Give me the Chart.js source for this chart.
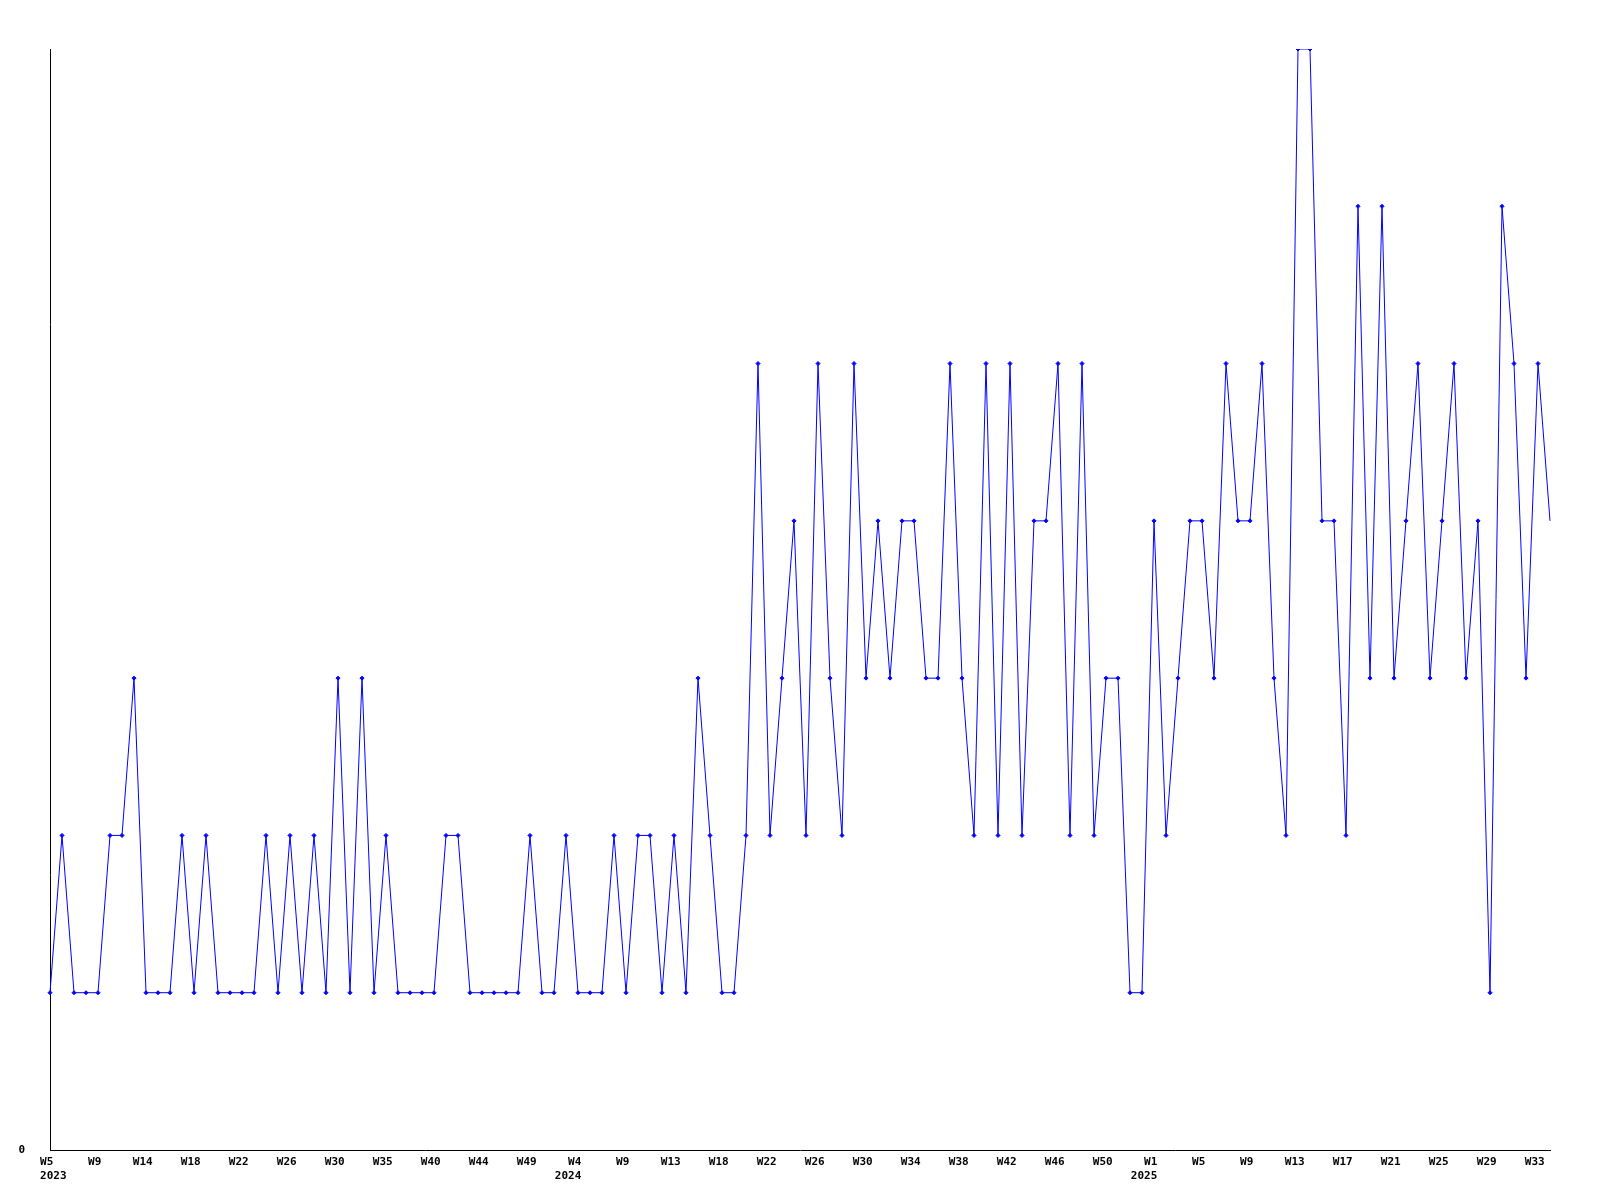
<!DOCTYPE html>
<html>
<head>
<meta charset="utf-8">
<script src="https://cdn.jsdelivr.net/npm/chart.js@4.4.1/dist/chart.umd.min.js"></script>
<style>
  html, body { margin: 0; padding: 0; background: #ffffff; }
  #wrap { width: 1600px; height: 1200px; }
</style>
</head>
<body>
<div id="wrap"><canvas id="c" width="1600" height="1200"></canvas></div>
<script>
// Week numbers per year (as listed in the source data)
const weeks2023 = [5,6,7,8,9,10,11,12,14,15,16,17,18,19,20,21,22,23,24,25,26,27,28,29,30,31,32,33,35,36,37,38,40,41,42,43,44,45,46,47,49,50,51,52];
const weeks2024 = [4,5,6,7,9,10,11,12,13,14,15,16,18,19,20,21,22,23,24,25,26,27,28,29,30,31,32,33,34,35,36,37,38,39,40,41,42,43,44,45,46,47,48,49,50,51,52,53];
const weeks2025 = [1,2,3,4,5,6,7,8,9,10,11,12,13,14,15,16,17,18,19,20,21,22,23,24,25,26,27,28,29,30,31,32,33,34];

// Values per week
const values2023 = [1,2,1,1,1,2,2,3,1,1, 1,2,1,2,1,1,1,1,2,1, 2,1,2,1,3,1,3,1,2,1, 1,1,1,2,2,1,1,1,1,1, 2,1,1,2];
const values2024 = [1,1,1,2,1,2,2,1,2,1, 3,2,1,1,2,5,2,3,4,2, 5,3,2,5,3,4,3,4,4,3, 3,5,3,2,5,2,5,2,4,4, 5,2,5,2,3,3,1,1];
const values2025 = [4,2,3,4,4,3,5,4,4,5, 3,2,7,7,4,4,2,6,3,6, 3,4,5,3,4,5,3,4,1,6, 5,3,5,4];

const years = [2023, 2024, 2025];
const yTickLabels = ['0'];

// Build category list
const labels = [];
const yearOf = [];
const data = [];
[[years[0], weeks2023, values2023], [years[1], weeks2024, values2024], [years[2], weeks2025, values2025]].forEach(([y, ws, vs]) => {
  ws.forEach((w, i) => { labels.push('W' + w); yearOf.push(y); data.push(vs[i]); });
});

const FONT = { family: '"DejaVu Sans Mono", "Liberation Mono", monospace', size: 11, weight: 'bold', lineHeight: 1.3 };

new Chart(document.getElementById('c'), {
  type: 'line',
  data: {
    labels: labels,
    datasets: [{
      data: data,
      borderColor: '#0000ff',
      backgroundColor: '#0000ff',
      borderWidth: 1,
      tension: 0,
      fill: false,
      pointStyle: 'rectRot',
      pointRadius: (ctx) => (ctx.dataIndex === data.length - 1 ? 0 : 2),
      pointBorderWidth: 1,
      pointBorderColor: '#0000ff',
      pointBackgroundColor: '#0000ff'
    }]
  },
  options: {
    responsive: false,
    animation: false,
    events: [],
    layout: { padding: { top: 49, right: 50, bottom: 0, left: 0 } },
    plugins: { legend: { display: false }, tooltip: { enabled: false }, title: { display: false } },
    scales: {
      x: {
        type: 'category',
        offset: false,
        grid: { display: false, drawTicks: false },
        border: { display: true, color: '#000000', width: 1 },
        afterFit: (s) => { s.height = 50; },
        ticks: {
          autoSkip: false,
          maxRotation: 0,
          minRotation: 0,
          padding: 5,
          color: '#000000',
          font: FONT,
          callback: function (val, idx) {
            if (idx % 4 !== 0) return '';
            const lab = labels[idx] + ' ';
            let firstOfYear = true;
            for (let j = 0; j < idx; j += 4) { if (yearOf[j] === yearOf[idx]) { firstOfYear = false; break; } }
            if (!firstOfYear) return lab;
            const yr = idx === 0 ? ' ' + yearOf[idx] : yearOf[idx] + '   ';
            return [lab, yr];
          }
        }
      },
      y: {
        min: 0,
        max: 7,
        grid: { display: false, drawTicks: false },
        border: { display: true, color: '#000000', width: 1 },
        afterFit: (s) => { s.width = 50; },
        ticks: {
          stepSize: 7,
          padding: 25,
          color: '#000000',
          font: FONT,
          callback: (v) => (v === 0 ? yTickLabels[0] : '')
        }
      }
    }
  }
});
</script>
</body>
</html>
